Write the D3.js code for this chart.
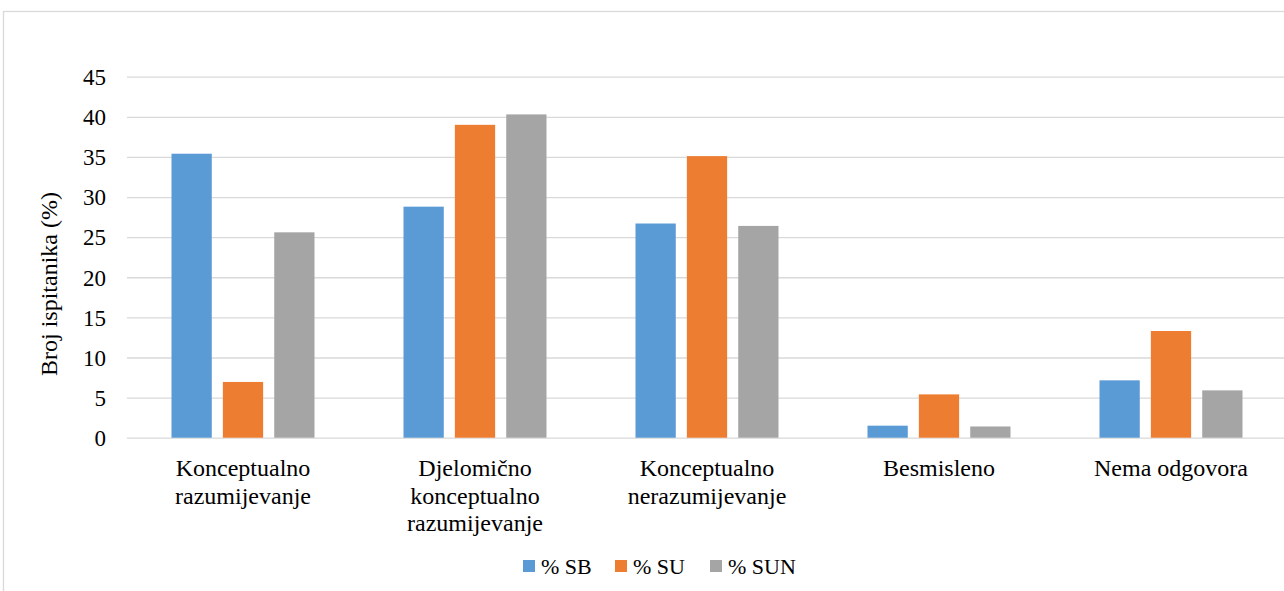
<!DOCTYPE html>
<html>
<head>
<meta charset="utf-8">
<script src="https://cdn.jsdelivr.net/npm/d3@7"></script>
</head>
<body style="margin:0;padding:0;background:#fff">
<svg id="chart" width="1284" height="591" style="display:block"></svg>
<script>
const categories = [
  ["Konceptualno", "razumijevanje"],
  ["Djelomično", "konceptualno", "razumijevanje"],
  ["Konceptualno", "nerazumijevanje"],
  ["Besmisleno"],
  ["Nema odgovora"]
];
const seriesNames = ["% SB", "% SU", "% SUN"];
const seriesColors = ["#5b9bd5", "#ed7d31", "#a5a5a5"];
const valuesSB  = [35.4, 28.8, 26.7, 1.5, 7.15];
const valuesSU  = [6.95, 39.0, 35.1, 5.4, 13.3];
const valuesSUN = [25.6, 40.3, 26.4, 1.4, 5.9];
const yTicks = [0, 5, 10, 15, 20, 25, 30, 35, 40, 45];
const yTitle = "Broj ispitanika (%)";

const FONT = "'Liberation Serif'";
const seriesValues = [valuesSB, valuesSU, valuesSUN];
const svg = d3.select("#chart");

// chart border
svg.append("rect")
  .attr("x", 3.5).attr("y", 11.5)
  .attr("width", 1300).attr("height", 600)
  .attr("fill", "none").attr("stroke", "#d9d9d9").attr("stroke-width", 1.3);

const plotL = 127, plotR = 1287, plotT = 76.7, plotB = 437.7;
const catIdx = categories.map((d, i) => i);
const x0 = d3.scaleBand().domain(catIdx).range([plotL, plotR]).padding(0);
const groupW = 143;
const x1 = d3.scaleBand().domain(seriesNames).range([0, groupW]).paddingInner(0.216).paddingOuter(0);
const y = d3.scaleLinear().domain([0, 45]).range([plotB, plotT]);

// gridlines + tick labels
const yAxis = d3.axisLeft(y).tickValues(yTicks).tickSize(-(1284 - plotL)).tickFormat(d3.format("d"));
const gy = svg.append("g").attr("transform", `translate(${plotL},0)`).call(yAxis);
gy.attr("font-family", null).attr("font-size", null);
gy.select(".domain").remove();
gy.selectAll(".tick line").attr("stroke", "#d9d9d9").attr("stroke-width", 1.3);
gy.selectAll(".tick text")
  .attr("x", -21)
  .attr("dy", "0.34em")
  .style("font-family", FONT)
  .style("font-size", "23px")
  .attr("fill", "#000");

// bars
const groups = svg.append("g").selectAll("g")
  .data(catIdx).join("g")
  .attr("transform", d => `translate(${x0(d) + (x0.bandwidth() - groupW) / 2},0)`);
groups.selectAll("rect")
  .data(ci => seriesNames.map((s, si) => ({ s, si, v: seriesValues[si][ci] })))
  .join("rect")
  .attr("x", d => x1(d.s))
  .attr("width", x1.bandwidth())
  .attr("y", d => y(d.v))
  .attr("height", d => plotB - y(d.v))
  .attr("fill", d => seriesColors[d.si]);

// category labels
const lab = svg.append("g").selectAll("text")
  .data(catIdx).join("text")
  .attr("text-anchor", "middle")
  .style("font-family", FONT)
  .style("font-size", "24px")
  .attr("fill", "#000")
  .attr("transform", d => `translate(${x0(d) + x0.bandwidth() / 2},476)`);
lab.selectAll("tspan")
  .data(d => categories[d])
  .join("tspan")
  .attr("x", 0)
  .attr("dy", (d, i) => i === 0 ? 0 : 27.5)
  .text(d => d);

// y title
svg.append("text")
  .attr("transform", "translate(57,284) rotate(-90)")
  .attr("text-anchor", "middle")
  .style("font-family", FONT)
  .style("font-size", "24px")
  .attr("fill", "#000")
  .text(yTitle);

// legend
const legendX = [523, 615, 710];
const leg = svg.append("g").selectAll("g")
  .data(seriesNames).join("g")
  .attr("transform", (d, i) => `translate(${legendX[i]},560)`);
leg.append("rect").attr("width", 12).attr("height", 12).attr("fill", (d, i) => seriesColors[i]);
leg.append("text").attr("x", 18).attr("y", 13.5)
  .style("font-family", FONT).style("font-size", "22px").attr("fill", "#000")
  .text(d => d);
</script>
</body>
</html>
